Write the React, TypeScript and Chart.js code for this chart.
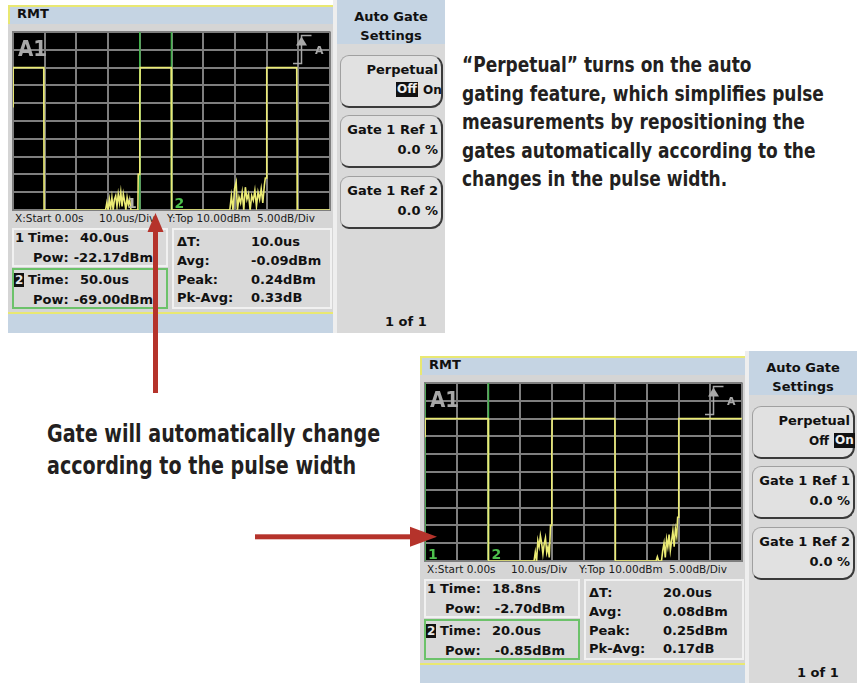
import React, { useEffect, useRef } from "react";
import { Chart, registerables } from "chart.js";

Chart.register(...registerables);

// ---------------- DATA ----------------
// Time axis: 0 .. 100 us, 10 us/div ; Power axis: top 10 dBm, 5 dB/div, 10 divisions
const X_START_US = 0;
const X_END_US = 100;
const X_STEP_US = 10;
const Y_TOP_DBM = 10;
const Y_BOTTOM_DBM = -40;
const Y_STEP_DB = 5;

// Upper screen (Perpetual Off) trace
const TOP_TIME_US = [
  0, 0.05, 9.7, 9.75, 9.8,
  29.2, 29.6, 30.0, 30.4, 30.8, 31.2, 31.6, 32.0, 32.4, 32.8, 33.2, 33.6, 34.0, 34.4, 34.8, 35.2, 35.6, 36.0, 36.4, 36.8, 37.2,
  39.4, 39.5, 39.9, 40.0, 40.1, 49.9, 50.0, 50.05,
  68.4, 68.9, 69.4, 69.9, 70.4, 70.8, 71.3, 71.8, 72.3, 72.8, 73.3, 73.8, 74.3, 74.8, 75.3, 75.8, 76.3, 76.8, 77.3, 77.8, 78.3, 78.8, 79.3, 79.6, 79.9,
  80.0, 80.1, 89.5, 89.6, 89.65, 100,
];
const TOP_POWER_DBM = [
  -11, 0, 0, -20, -40,
  -40, -38, -40, -37, -39.5, -36.5, -40, -37, -36, -39, -35.5, -38, -35, -39, -35.5, -37.5, -40, -36.5, -38.5, -37, -40,
  -40, -30, -30, -10, 0, 0, -20, -40,
  -40, -36, -40, -34, -32.2, -40, -36.4, -38, -35, -40, -33.6, -37, -35.5, -40, -36, -37.3, -34.5, -39, -35, -37, -34, -38, -33, -31, -31,
  -11, 0, 0, -20, -40, -40,
];
const TOP_GATES_US = [40, 50];

// Lower screen (Perpetual On) trace
const BOTTOM_TIME_US = [
  0, 0.05, 19.9, 20.0, 20.05,
  34.4, 34.8, 35.2, 35.6, 36.0, 36.4, 36.8, 37.2, 37.6, 38.0, 38.4, 38.8, 39.2, 39.6, 39.9,
  40.0, 40.1, 59.9, 60.0, 60.05,
  72.9, 73.3, 73.7, 74.6, 75.0, 75.4, 75.8, 76.2, 76.6, 77.0, 77.4, 77.8, 78.2, 78.6, 79.0, 79.4, 79.7, 79.9,
  80.0, 80.1, 100,
];
const BOTTOM_POWER_DBM = [
  -5, 0, 0, -20.7, -40,
  -40, -37.5, -40, -34.3, -36, -32.9, -35, -38, -35.2, -33.5, -37.6, -36, -39, -30, -30,
  -10.4, 0, 0, -20.7, -40,
  -40, -38.8, -40, -40, -37, -35, -39, -33.9, -36, -32.6, -37, -34.3, -31.5, -36, -31, -33, -27.7, -27.7,
  -10.4, 0, 0,
];
const BOTTOM_GATES_US = [0, 20];

// Readouts
const STAT_LABELS = ["\u0394T:", "Avg:", "Peak:", "Pk-Avg:"];
const TOP_MARKER_TIMES = ["40.0us", "50.0us"];
const TOP_MARKER_POWERS = ["-22.17dBm", "-69.00dBm"];
const TOP_STATS = ["10.0us", "-0.09dBm", "0.24dBm", "0.33dB"];
const BOTTOM_MARKER_TIMES = ["18.8ns", "20.0us"];
const BOTTOM_MARKER_POWERS = ["-2.70dBm", "-0.85dBm"];
const BOTTOM_STATS = ["20.0us", "0.08dBm", "0.25dBm", "0.17dB"];
const SCALE_TEXTS = ["X:Start 0.00s", "10.0us/Div", "Y:Top 10.00dBm", "5.00dB/Div"];

// ---------------- STYLE ----------------
const UI_FONT = '"DejaVu Sans", Verdana, sans-serif';
const NARROW_FONT = '"Liberation Sans Narrow", "DejaVu Sans Condensed", "Arial Narrow", sans-serif';
const BLUE = "#c5d4e3";
const YELLOW = "#e9e872";
const MAIN_BG = "#d5d5d5";
const PANEL_BG = "#d9d9d9";
const BOX_BG = "#d9d9d9";
const GRID = "#7e7e7e";
const TRACE = "#ebeb74";
const GATE = "#43b04c";
const RED = "#b5332b";
const INK = "#231f20";

const scopeDecor = {
  id: "scopeDecor",
  beforeDraw(chart: any) {
    const { ctx, chartArea: a } = chart;
    ctx.save();
    ctx.fillStyle = "#000";
    ctx.fillRect(a.left, a.top, a.right - a.left, a.bottom - a.top);
    ctx.restore();
  },
  afterDatasetsDraw(chart: any, _args: any, opts: any) {
    const { ctx, chartArea: a, scales } = chart;
    const x = scales.x;
    ctx.save();
    // A1 label
    ctx.fillStyle = "#a8a8a8";
    ctx.textBaseline = "alphabetic";
    ctx.font = `bold 22px ${NARROW_FONT}`;
    ctx.fillText("A1", a.left + 5, a.top + 23.5);
    // trigger icon
    const r = a.right;
    const t = a.top;
    ctx.strokeStyle = "#a8a8a8";
    ctx.lineWidth = 1.5;
    ctx.beginPath();
    ctx.moveTo(r - 37, t + 31.5);
    ctx.lineTo(r - 28.5, t + 31.5);
    ctx.lineTo(r - 28.5, t + 3.5);
    ctx.lineTo(r - 18.5, t + 3.5);
    ctx.stroke();
    ctx.beginPath();
    ctx.moveTo(r - 28.5, t + 4.5);
    ctx.lineTo(r - 34, t + 13.5);
    ctx.lineTo(r - 23, t + 13.5);
    ctx.closePath();
    ctx.fill();
    ctx.font = `bold 11px ${UI_FONT}`;
    ctx.fillText("A", r - 15, t + 21.5);
    // gate labels
    ctx.font = `bold 14px ${UI_FONT}`;
    (opts.gates as number[]).forEach((g: number, i: number) => {
      const px = x.getPixelForValue(g);
      const side = opts.labelSides[i];
      ctx.fillStyle = opts.labelColors[i];
      ctx.textAlign = side === "left" ? "right" : "left";
      ctx.fillText(String(i + 1), side === "left" ? px - 3 : px + 3, a.bottom - 2);
    });
    ctx.restore();
  },
};

type ChartProps = {
  time: number[];
  power: number[];
  gates: number[];
  labelSides: string[];
  labelColors: string[];
  left: number;
  top: number;
};

function ScopeChart(p: ChartProps) {
  const ref = useRef<HTMLCanvasElement>(null);
  useEffect(() => {
    if (!ref.current) return;
    const trace = p.time.map((t, i) => ({ x: t, y: p.power[i] }));
    const gateSets = p.gates.map((g) => ({
      data: [
        { x: g, y: Y_TOP_DBM },
        { x: g, y: Y_BOTTOM_DBM },
      ],
      borderColor: GATE,
      borderWidth: 1.6,
      pointRadius: 0,
    }));
    const axisCommon = {
      type: "linear" as const,
      ticks: { display: false },
      grid: { color: GRID, lineWidth: 2, drawTicks: false },
      border: { display: true, color: GRID, width: 2 },
    };
    const chart = new Chart(ref.current, {
      type: "line",
      data: {
        datasets: [
          { data: trace, borderColor: TRACE, borderWidth: 1.6, pointRadius: 0, tension: 0 },
          ...gateSets,
        ],
      },
      options: {
        animation: false,
        responsive: false,
        devicePixelRatio: 1,
        events: [],
        layout: { padding: 1 },
        plugins: {
          legend: { display: false },
          tooltip: { enabled: false },
          scopeDecor: { gates: p.gates, labelSides: p.labelSides, labelColors: p.labelColors },
        } as any,
        scales: {
          x: {
            ...axisCommon,
            min: X_START_US,
            max: X_END_US,
            ticks: { display: false, stepSize: X_STEP_US },
            afterFit: (s: any) => {
              s.height = 0;
            },
          },
          y: {
            ...axisCommon,
            min: Y_BOTTOM_DBM,
            max: Y_TOP_DBM,
            ticks: { display: false, stepSize: Y_STEP_DB },
            afterFit: (s: any) => {
              s.width = 0;
            },
          },
        } as any,
      },
      plugins: [scopeDecor],
    } as any);
    return () => chart.destroy();
  }, []);
  return (
    <canvas
      ref={ref}
      width={319}
      height={180}
      style={{ position: "absolute", left: p.left, top: p.top, width: 319, height: 180, background: "#a9a9a9" }}
    />
  );
}

type ScreenProps = {
  left: number;
  top: number;
  time: number[];
  power: number[];
  gates: number[];
  labelSides: string[];
  labelColors: string[];
  markerTimes: string[];
  markerPowers: string[];
  stats: string[];
  perpetualOn: boolean;
};

function abs(l: number, t: number, extra: any = {}): any {
  return { position: "absolute", left: l, top: t, ...extra };
}

function Screen(p: ScreenProps) {
  const txt: any = {
    fontFamily: UI_FONT,
    fontWeight: 700,
    fontSize: 13,
    lineHeight: "16px",
    color: "#111",
    whiteSpace: "pre",
  };
  const small: any = {
    fontFamily: UI_FONT,
    fontWeight: 400,
    fontSize: 10.5,
    lineHeight: "13px",
    color: "#1a1a1a",
    whiteSpace: "pre",
  };
  const inv: any = { background: "#111", color: "#eee", padding: "0 1px", lineHeight: "15px" };
  const scaleX = [7, 91, 159, 249];
  const statTops = [234, 253, 272, 290];
  const btn: any = {
    position: "absolute",
    left: 3,
    width: 103,
    boxSizing: "border-box",
    background: "#e1e1e1",
    border: "1px solid #a0a0a0",
    borderRight: "2px solid #3a3a3a",
    borderBottom: "2px solid #3a3a3a",
    borderRadius: "9px 12px 12px 9px",
  };
  const btnText = (t: number, s: string) => (
    <span style={{ ...txt, position: "absolute", right: 3, top: t, textAlign: "right" }}>{s}</span>
  );
  return (
    <div style={abs(p.left, p.top, { width: 437, height: 333 })}>
      {/* main area */}
      <div style={abs(0, 24, { width: 325, height: 288, background: MAIN_BG })} />
      {/* header */}
      <div
        style={abs(0, 5, {
          width: 325,
          height: 19,
          boxSizing: "border-box",
          background: BLUE,
          borderTop: `2px solid ${YELLOW}`,
          borderLeft: `2px solid ${YELLOW}`,
        })}
      >
        <span style={{ ...txt, position: "absolute", left: 7, top: -1 }}>RMT</span>
      </div>
      <ScopeChart
        time={p.time}
        power={p.power}
        gates={p.gates}
        labelSides={p.labelSides}
        labelColors={p.labelColors}
        left={4}
        top={31}
      />
      {/* scale line */}
      {SCALE_TEXTS.map((s, i) => (
        <span key={s} style={{ ...small, ...abs(scaleX[i], 212) }}>
          {s}
        </span>
      ))}
      {/* marker boxes */}
      <div style={abs(4, 228, { width: 156, height: 39, boxSizing: "border-box", background: BOX_BG, border: "2px solid #f1f1f1" })} />
      <div style={abs(4, 268, { width: 156, height: 41, boxSizing: "border-box", background: BOX_BG, border: "2.5px solid #6cc26a" })} />
      <div style={abs(164, 228, { width: 160, height: 81, boxSizing: "border-box", background: BOX_BG, border: "2px solid #f1f1f1" })} />
      <span style={{ ...txt, ...abs(7, 230) }}>1</span>
      <span style={{ ...txt, ...abs(20, 230) }}>Time:</span>
      <span style={{ ...txt, ...abs(72, 230) }}>{p.markerTimes[0]}</span>
      <span style={{ ...txt, ...abs(25, 250) }}>Pow:</span>
      <span style={{ ...txt, ...abs(50, 250, { width: 95, textAlign: "right" }) }}>{p.markerPowers[0]}</span>
      <span
        style={{
          ...txt,
          ...abs(6, 273, { background: "#111", color: "#e8e8e8", lineHeight: "14px", padding: "0 1px", fontSize: 12 }),
        }}
      >
        2
      </span>
      <span style={{ ...txt, ...abs(20, 272) }}>Time:</span>
      <span style={{ ...txt, ...abs(72, 272) }}>{p.markerTimes[1]}</span>
      <span style={{ ...txt, ...abs(25, 292) }}>Pow:</span>
      <span style={{ ...txt, ...abs(50, 292, { width: 95, textAlign: "right" }) }}>{p.markerPowers[1]}</span>
      {STAT_LABELS.map((s, i) => (
        <React.Fragment key={s}>
          <span style={{ ...txt, ...abs(169, statTops[i]) }}>{s}</span>
          <span style={{ ...txt, ...abs(243, statTops[i]) }}>{p.stats[i]}</span>
        </React.Fragment>
      ))}
      {/* bottom bar */}
      <div
        style={abs(0, 312, {
          width: 325,
          height: 21,
          boxSizing: "border-box",
          background: BLUE,
          borderTop: `2px solid ${YELLOW}`,
        })}
      />
      {/* separator */}
      <div style={abs(325, 0, { width: 4, height: 333, background: "#eeeeee" })} />
      {/* softkey panel */}
      <div style={abs(329, 0, { width: 108, height: 333, background: PANEL_BG })}>
        <div style={abs(0, 0, { width: 108, height: 44, background: BLUE })} />
        <span style={{ ...txt, ...abs(0, 9, { width: 108, textAlign: "center" }) }}>Auto Gate</span>
        <span style={{ ...txt, ...abs(0, 28, { width: 108, textAlign: "center" }) }}>Settings</span>
        <div style={{ ...btn, top: 55, height: 53 }}>{btnText(6, "Perpetual")}</div>
        <span style={{ ...txt, fontSize: 12, ...abs(59, 82, p.perpetualOn ? { padding: "0 1px" } : inv) }}>Off</span>
        <span style={{ ...txt, fontSize: 12, ...abs(85, 82, p.perpetualOn ? inv : { padding: "0 1px" }) }}>On</span>
        <div style={{ ...btn, top: 115, height: 53 }}>
          {btnText(6, "Gate 1 Ref 1")}
          {btnText(26, "0.0 %")}
        </div>
        <div style={{ ...btn, top: 176, height: 53 }}>
          {btnText(6, "Gate 1 Ref 2")}
          {btnText(26, "0.0 %")}
        </div>
        <span style={{ ...txt, ...abs(48, 314) }}>1 of 1</span>
      </div>
    </div>
  );
}

export default function App() {
  const annot: any = {
    fontFamily: NARROW_FONT,
    fontWeight: 700,
    color: INK,
    whiteSpace: "pre",
    transformOrigin: "0 0",
  };
  return (
    <div style={{ position: "absolute", left: 0, top: 0, width: 858, height: 683, background: "#fff", overflow: "hidden" }}>
      <Screen
        left={8}
        top={0}
        time={TOP_TIME_US}
        power={TOP_POWER_DBM}
        gates={TOP_GATES_US}
        labelSides={["left", "right"]}
        labelColors={["#b4b4a8", "#4cc04c"]}
        markerTimes={TOP_MARKER_TIMES}
        markerPowers={TOP_MARKER_POWERS}
        stats={TOP_STATS}
        perpetualOn={false}
      />
      <Screen
        left={420}
        top={351}
        time={BOTTOM_TIME_US}
        power={BOTTOM_POWER_DBM}
        gates={BOTTOM_GATES_US}
        labelSides={["right", "right"]}
        labelColors={["#4cc04c", "#4cc04c"]}
        markerTimes={BOTTOM_MARKER_TIMES}
        markerPowers={BOTTOM_MARKER_POWERS}
        stats={BOTTOM_STATS}
        perpetualOn={true}
      />
      <div
        style={{
          ...annot,
          position: "absolute",
          left: 462,
          top: 51,
          fontSize: 21,
          lineHeight: "28.5px",
          transform: "scaleX(0.9)",
        }}
      >
        {"\u201CPerpetual\u201D turns on the auto\ngating feature, which simplifies pulse\nmeasurements by repositioning the\ngates automatically according to the\nchanges in the pulse width."}
      </div>
      <div
        style={{
          ...annot,
          position: "absolute",
          left: 47,
          top: 418,
          fontSize: 25,
          lineHeight: "32px",
          transform: "scaleX(0.85)",
        }}
      >
        {"Gate will automatically change\naccording to the pulse width"}
      </div>
      <svg width={858} height={683} style={{ position: "absolute", left: 0, top: 0, pointerEvents: "none" }}>
        <rect x={153} y={230} width={5} height={163} fill={RED} />
        <polygon points="155.5,213 147.5,232 163.5,232" fill={RED} />
        <rect x={255} y={534.3} width={157} height={5} fill={RED} />
        <polygon points="437,536.8 410,526.8 410,546.8" fill={RED} />
      </svg>
    </div>
  );
}
